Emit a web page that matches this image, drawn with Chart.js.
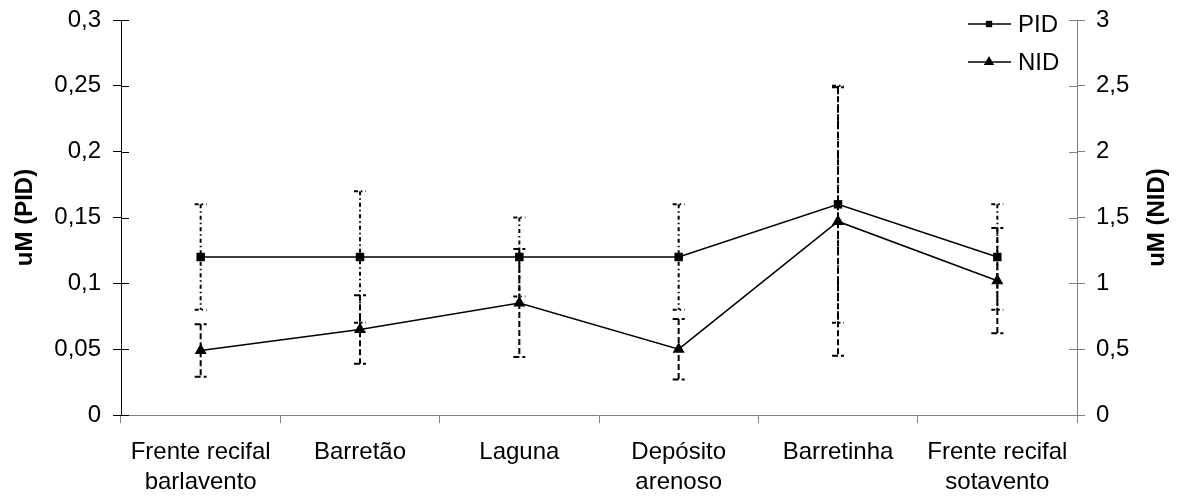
<!DOCTYPE html>
<html>
<head>
<meta charset="utf-8">
<script src="https://cdn.jsdelivr.net/npm/chart.js@4.4.1/dist/chart.umd.min.js"></script>
<style>
  html, body { margin: 0; padding: 0; background: #fff; }
  #wrap { width: 1178px; height: 497px; position: relative; }
</style>
</head>
<body>
<div id="wrap"><canvas id="chart"></canvas></div>
<script>
const categories = [
  ['Frente recifal', 'barlavento'],
  'Barretão',
  'Laguna',
  ['Depósito', 'arenoso'],
  'Barretinha',
  ['Frente recifal', 'sotavento']
]

// PID (left axis, uM) and NID (right axis, uM)
const pidValues = [0.12, 0.12, 0.12, 0.12, 0.16, 0.12]
const pidErrors = [0.04, 0.05, 0.03, 0.04, 0.09, 0.04]
const nidValues = [0.49, 0.65, 0.85, 0.50, 1.47, 1.02]
const nidErrors = [0.20, 0.26, 0.41, 0.23, 1.02, 0.40]

const FONT = 'Arial, "Liberation Sans", sans-serif'

// error bars drawn from the data arrays through the scales
const errorBars = {
  id: 'errorBars',
  afterDatasetsDraw(chart) {
    const ctx = chart.ctx
    const x = chart.scales.x
    const sets = [
      { scale: chart.scales.y, vals: pidValues, errs: pidErrors, dash: [4, 3, 1.5, 3] },
      { scale: chart.scales.y1, vals: nidValues, errs: nidErrors, dash: [6, 3] }
    ]
    ctx.save()
    ctx.strokeStyle = '#000'
    ctx.lineWidth = 2
    sets.forEach(s => {
      ctx.setLineDash(s.dash)
      s.vals.forEach((v, i) => {
        const px = x.getPixelForValue(i)
        const top = s.scale.getPixelForValue(v + s.errs[i])
        const bot = s.scale.getPixelForValue(v - s.errs[i])
        ctx.beginPath()
        ctx.moveTo(px, top)
        ctx.lineTo(px, bot)
        ctx.moveTo(px - 6, top)
        ctx.lineTo(px + 6, top)
        ctx.moveTo(px - 6, bot)
        ctx.lineTo(px + 6, bot)
        ctx.stroke()
      })
    })
    ctx.restore()
  }
}

// ticks crossing the vertical axes, axis titles, and the legend
const extras = {
  id: 'extras',
  afterDraw(chart) {
    const ctx = chart.ctx
    const area = chart.chartArea
    ctx.save()
    ctx.lineWidth = 1
    ctx.strokeStyle = '#000'
    chart.scales.y.ticks.forEach(t => {
      const py = Math.round(chart.scales.y.getPixelForValue(t.value)) + 0.5
      ctx.beginPath()
      ctx.moveTo(area.left, py)
      ctx.lineTo(area.left + 8, py)
      ctx.stroke()
    })
    ctx.strokeStyle = '#808080'
    chart.scales.y1.ticks.forEach(t => {
      const py = Math.round(chart.scales.y1.getPixelForValue(t.value)) + 0.5
      ctx.beginPath()
      ctx.moveTo(area.right - 8, py)
      ctx.lineTo(area.right, py)
      ctx.stroke()
    })

    // axis titles, both reading bottom to top
    const midY = (area.top + area.bottom) / 2
    ctx.fillStyle = '#000'
    ctx.font = 'bold 24px ' + FONT
    ctx.textAlign = 'center'
    ctx.textBaseline = 'middle'
    ;[['uM (PID)', 24], ['uM (NID)', 1156]].forEach(([txt, cx]) => {
      ctx.save()
      ctx.translate(cx, midY)
      ctx.rotate(-Math.PI / 2)
      ctx.fillText(txt, 0, 1)
      ctx.restore()
    })

    // legend
    const items = [
      { text: 'PID', style: 'rect', y: 24 },
      { text: 'NID', style: 'triangle', y: 62 }
    ]
    ctx.strokeStyle = '#000'
    ctx.lineWidth = 1.5
    ctx.font = '24px ' + FONT
    ctx.textAlign = 'left'
    items.forEach(it => {
      ctx.beginPath()
      ctx.moveTo(968, it.y)
      ctx.lineTo(1011, it.y)
      ctx.stroke()
      Chart.helpers.drawPoint(ctx, { pointStyle: it.style, radius: it.style === 'rect' ? 4.5 : 6, borderWidth: 0 }, 989, it.y)
      ctx.fillText(it.text, 1018, it.y + 1)
    })
    ctx.restore()
  }
}

const noPad = s => { s.paddingTop = 0; s.paddingBottom = 0 }

new Chart(document.getElementById('chart'), {
  type: 'line',
  data: {
    labels: categories,
    datasets: [
      {
        label: 'PID',
        data: pidValues,
        yAxisID: 'y',
        borderColor: '#000',
        backgroundColor: '#000',
        borderWidth: 1.5,
        pointStyle: 'rect',
        pointRadius: 6,
        pointBorderWidth: 0,
        tension: 0
      },
      {
        label: 'NID',
        data: nidValues,
        yAxisID: 'y1',
        borderColor: '#000',
        backgroundColor: '#000',
        borderWidth: 1.5,
        pointStyle: 'triangle',
        pointRadius: 7,
        pointBorderWidth: 0,
        tension: 0
      }
    ]
  },
  options: {
    responsive: true,
    maintainAspectRatio: false,
    animation: false,
    layout: { padding: { top: 20, left: 0, right: 0, bottom: 0 } },
    plugins: {
      legend: { display: false },
      tooltip: { enabled: false }
    },
    scales: {
      x: {
        offset: true,
        grid: { display: true, drawOnChartArea: false, offset: true, tickLength: 8, color: '#808080' },
        border: { color: '#808080' },
        ticks: { color: '#000', font: { family: FONT, size: 24, lineHeight: 1.25 }, padding: 14, maxRotation: 0, autoSkip: false },
        afterFit: s => { s.height = 82; s.paddingLeft = 0; s.paddingRight = 0 }
      },
      y: {
        position: 'left',
        min: 0,
        max: 0.3,
        grid: { drawOnChartArea: false, tickLength: 8, color: '#000' },
        border: { color: '#000' },
        ticks: {
          stepSize: 0.05,
          color: '#000',
          padding: 12,
          font: { family: FONT, size: 24 },
          callback: v => String(Math.round(v * 100) / 100).replace('.', ',')
        },
        afterFit: s => { s.width = 121; noPad(s) }
      },
      y1: {
        position: 'right',
        min: 0,
        max: 3,
        grid: { drawOnChartArea: false, tickLength: 8, color: '#808080' },
        border: { color: '#808080' },
        ticks: {
          stepSize: 0.5,
          color: '#000',
          padding: 11,
          font: { family: FONT, size: 24 },
          callback: v => String(v).replace('.', ',')
        },
        afterFit: s => { s.width = 101; noPad(s) }
      }
    }
  },
  plugins: [errorBars, extras]
})
</script>
</body>
</html>
